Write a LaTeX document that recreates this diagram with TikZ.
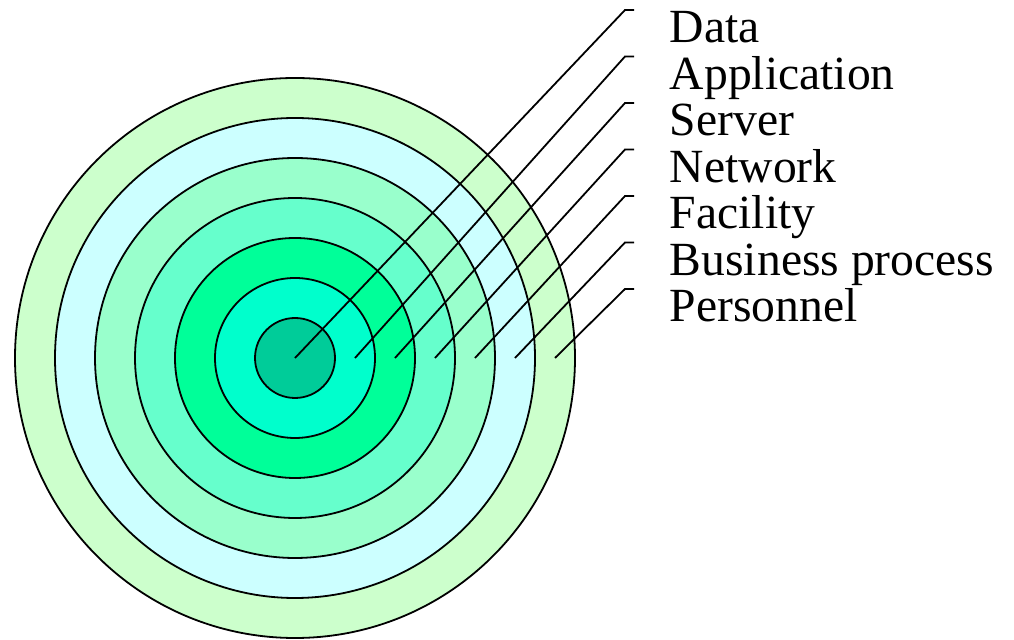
\documentclass[tikz,border=0pt]{standalone}
\usepackage{fontspec}
\setmainfont{Liberation Serif}
\definecolor{ringA}{HTML}{00CC99}
\definecolor{ringB}{HTML}{00FFCC}
\definecolor{ringC}{HTML}{00FF99}
\definecolor{ringD}{HTML}{66FFCC}
\definecolor{ringE}{HTML}{99FFCC}
\definecolor{ringF}{HTML}{CCFFFF}
\definecolor{ringG}{HTML}{CCFFCC}
\begin{document}
\begin{tikzpicture}[x=0.5pt,y=-0.5pt,line width=0.9pt,
  layer/.style={anchor=base west, inner sep=0pt, font=\fontsize{23.8}{28}\selectfont}]
\useasboundingbox (0,0) rectangle (1014,640);
\coordinate (c) at (295,358);
% кольца
\foreach \r/\col in {280/ringG,240/ringF,200/ringE,160/ringD,120/ringC,80/ringB,40/ringA}
  \filldraw[fill=\col] (c) circle[radius=\r*0.5pt];
% подписи и выноски
\foreach \t/\px [count=\i] in {Data/295,Application/355,Server/395,Network/435,
    Facility/475,Business process/515,Personnel/555}{
  \pgfmathsetmacro\cy{10+46.5*(\i-1)}
  \coordinate (p\i) at (\px,358);
  \coordinate (k\i) at (625,\cy);
  \coordinate (e\i) at (634,\cy);
  \node[layer] (l\i) at (669,\cy+33) {\t};
  \draw (p\i) -- (k\i) -- (e\i);
}
\end{tikzpicture}
\end{document}
